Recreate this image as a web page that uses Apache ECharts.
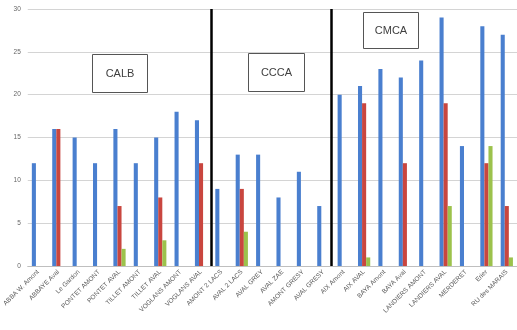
<!DOCTYPE html>
<html><head><meta charset="utf-8">
<script src="https://cdn.jsdelivr.net/npm/echarts@6/dist/echarts.min.js"></script>
<style>html,body{margin:0;padding:0;background:#fff}#c{width:517px;height:330px}</style>
</head><body><div id="c"></div>
<script>
const categories = ["ABBA W. Amont","ABBAYE Aval","Le Gardon","PONTET AMONT","PONTET AVAL","TILLET AMONT","TILLET AVAL","VOGLANS AMONT","VOGLANS AVAL","AMONT 2 LACS","AVAL 2 LACS","AVAL GREY","AVAL ZAE","AMONT GRESY","AVAL GRESY","AIX Amont","AIX AVAL","BAYA Amont","BAYA Aval","LANDIERS AMONT","LANDIERS AVAL","MERDERET","Erier","RU des MARAIS"];
const blueValues  = [12,16,15,12,16,12,15,18,17, 9,13,13,8,11,7, 20,21,23,22,24,29,14,28,27];
const redValues   = [null,16,null,null,7,null,8,null,12, null,9,null,null,null,null, null,19,null,12,null,19,null,12,7];
const greenValues = [null,null,null,null,2,null,3,null,null, null,4,null,null,null,null, null,1,null,null,null,7,null,14,1];
const separators = [9, 14.87];
const groupLabels = ["CALB","CCCA","CMCA"];

const chart = echarts.init(document.getElementById('c'));
const lab = {fontFamily:'Liberation Sans, Arial', fontSize:11, fill:'#404040', text:''};
function box(x,y,w,h,t){
  return {type:'group', left:x, top:y, children:[
    {type:'rect', shape:{x:0,y:0,width:w,height:h}, style:{fill:'#fff', stroke:'#555', lineWidth:1}},
    {type:'text', style:Object.assign({}, lab, {text:t, x:w/2, y:h/2, align:'center', verticalAlign:'middle'})}
  ]};
}
chart.setOption({
  animation:false,
  grid:{left:26, right:-3, top:9, bottom:64},
  xAxis:[{
    type:'category', data:categories,
    axisTick:{show:false},
    axisLine:{lineStyle:{color:'#bfbfbf'}},
    axisLabel:{rotate:45, interval:0, fontSize:6.5, color:'#595959', fontFamily:'Liberation Sans, Arial', margin:5}
  },{
    type:'value', min:0, max:24, show:false
  }],
  yAxis:{
    type:'value', min:0, max:30, interval:5,
    axisLine:{show:false}, axisTick:{show:false},
    axisLabel:{fontSize:6.5, color:'#666', fontFamily:'Liberation Sans, Arial', margin:7},
    splitLine:{lineStyle:{color:'#d4d4d4'}}
  },
  series:[
    {type:'bar', data:blueValues, barGap:'0%', barCategoryGap:'40%', itemStyle:{color:'#4a7fcf'}},
    {type:'bar', data:redValues, itemStyle:{color:'#c9463f'}},
    {type:'bar', data:greenValues, itemStyle:{color:'#9cc24c'}},
    {type:'line', xAxisIndex:1, data:[], markLine:{symbol:'none', silent:true, label:{show:false},
      lineStyle:{color:'#000', width:2.5, type:'solid'},
      data:separators.map(v=>({xAxis:v}))}}
  ],
  graphic:[
    box(92,54,55,38,groupLabels[0]),
    box(248,53,56,38,groupLabels[1]),
    box(363,12,55,36,groupLabels[2])
  ]
});
</script></body></html>
